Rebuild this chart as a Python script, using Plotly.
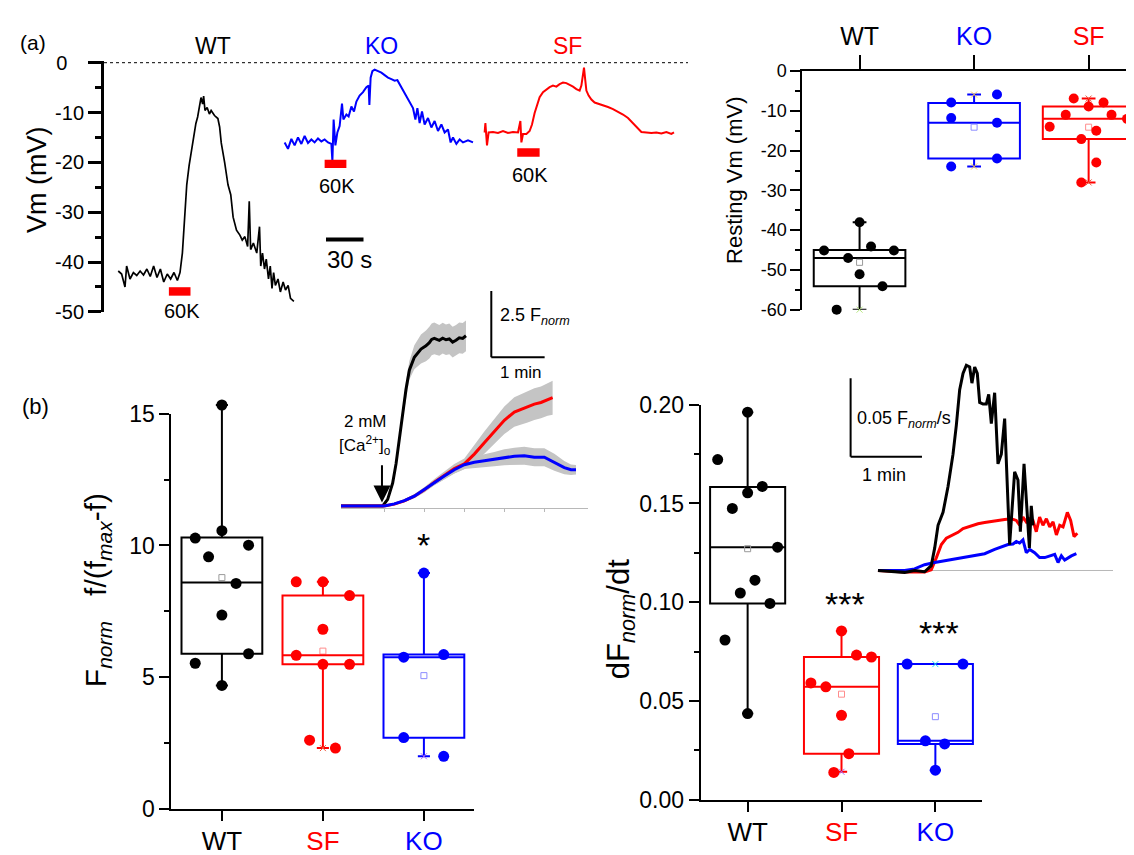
import plotly.graph_objects as go

W, H = 1134, 855
FONT = "Liberation Sans, Arial, Helvetica, sans-serif"
BLACK, RED, BLUE = "#000000", "#ff0000", "#0000ff"
LIGHT = {BLACK: "#9a9a9a", RED: "#ff8c8c", BLUE: "#8c8cff"}
GRAY_BAND = "#c4c4c4"
GRAY_LINE = "#b8b8b8"


def fx(px):
    return px / W


def fy(py):
    return 1 - py / H


# ---------------- (a) membrane potential traces (time s, Vm mV) ----------------
wt_vm_t = [11.4, 14.1, 16.8, 18.1, 20.8, 23.5, 26.2, 28.9, 31.6, 34.3, 37.0, 39.7, 42.4, 45.1, 47.8,
           50.6, 53.3, 56.0, 58.7, 60.8, 62.7, 64.1, 66.2, 68.1, 70.8, 73.5, 74.9, 76.2, 77.6, 78.9,
           79.7, 80.8, 82.5, 84.3, 85.7, 88.4, 91.1, 92.5, 93.8, 96.5, 99.2, 101.4, 103.3, 106.0,
           108.7, 110.6, 112.7, 114.9, 116.2, 117.3, 119.5, 122.2, 124.4, 125.4, 126.8, 128.4,
           129.8, 131.6, 133.0, 134.4, 135.7, 137.1, 139.2, 141.1, 143.3, 145.2, 147.3, 149.2, 151.9]
wt_vm = [-41.8, -42.4, -45.0, -40.8, -43.4, -42.1, -42.7, -41.8, -42.6, -41.4, -42.9, -40.8, -43.1,
         -41.4, -44.0, -42.4, -43.4, -42.1, -43.7, -42.1, -38.2, -31.7, -24.5, -20.6, -16.1, -12.2,
         -10.9, -9.0, -7.0, -8.3, -6.7, -9.6, -9.0, -10.3, -9.6, -10.6, -11.2, -12.9, -16.1, -20.0,
         -24.5, -26.5, -31.0, -33.6, -34.6, -35.6, -34.9, -36.9, -27.8, -37.5, -36.2, -38.2, -32.9,
         -40.8, -38.2, -41.4, -39.4, -43.4, -40.8, -45.3, -42.1, -44.7, -43.4, -46.0, -44.0, -45.6,
         -44.7, -47.3, -47.9]

ko_vm_t = [144.5, 147.2, 149.9, 152.5, 155.2, 157.9, 160.5, 163.2, 165.9, 168.5, 171.2, 173.9, 176.5,
           179.2, 181.9, 182.7, 183.7, 185.1, 186.7, 188.5, 190.4, 191.5, 193.9, 195.7, 197.9, 200.0,
           201.9, 204.5, 207.2, 209.9, 211.7, 212.3, 213.3, 214.7, 216.5, 219.2, 221.9, 224.5, 227.2,
           229.9, 232.5, 234.7, 236.5, 239.2, 241.9, 244.5, 247.2, 249.1, 250.7, 252.5, 254.4, 256.5,
           259.2, 261.9, 264.5, 267.2, 269.9, 272.5, 275.2, 277.3, 279.2, 281.9, 284.5, 287.2, 291.2, 295.2]
ko_vm = [-16.0, -17.3, -15.3, -16.6, -15.0, -16.3, -14.7, -16.1, -15.4, -16.0, -15.2, -15.8, -15.4,
         -16.0, -16.3, -19.8, -11.4, -16.6, -14.0, -12.7, -8.2, -11.4, -10.4, -10.8, -8.8, -9.8, -7.8,
         -6.6, -5.9, -4.9, -4.6, -8.5, -3.0, -1.7, -1.4, -1.7, -2.0, -2.5, -3.0, -3.3, -3.6, -3.5, -4.3,
         -5.6, -6.6, -7.8, -9.1, -11.4, -9.1, -12.1, -9.8, -12.4, -11.1, -13.0, -11.7, -13.7, -12.4,
         -14.0, -13.4, -16.0, -15.0, -16.3, -15.4, -16.0, -15.6, -16.0]

sf_vm_t = [304.5, 305.1, 306.4, 307.7, 311.2, 315.2, 319.2, 323.2, 327.2, 331.2, 333.1, 333.9, 335.2,
           337.9, 340.5, 342.4, 344.5, 346.7, 348.5, 351.2, 353.9, 356.5, 359.2, 361.9, 364.5, 367.2,
           369.9, 372.5, 375.2, 377.9, 380.5, 381.9, 383.2, 384.0, 384.8, 385.9, 387.7, 389.9, 392.5,
           395.2, 399.2, 403.2, 407.2, 411.2, 415.2, 419.2, 423.2, 427.2, 429.9, 433.9, 437.9, 441.9,
           445.9, 449.9, 453.9, 456.0]
sf_vm = [-14.0, -12.1, -16.6, -14.0, -13.9, -14.1, -13.7, -14.1, -13.9, -14.0, -11.7, -16.0, -14.3,
         -14.3, -13.7, -12.4, -10.1, -8.5, -6.9, -5.9, -5.4, -4.9, -4.6, -4.8, -4.3, -4.0, -4.1, -4.4,
         -4.8, -5.3, -5.6, -4.6, -2.3, -1.0, -3.0, -5.6, -6.6, -7.4, -8.0, -8.2, -8.5, -8.9, -9.3, -9.8,
         -10.4, -11.1, -12.1, -13.2, -13.9, -14.0, -14.1, -14.0, -14.2, -13.9, -14.3, -14.0]

# 60 mM K+ application windows (s) and bar level (mV)
k60_start = [51.9, 176.5, 330.6]
k60_end = [69.2, 193.9, 348.5]
k60_level = [-45.9, -20.3, -18.0]
trace_names = ["WT", "KO", "SF"]
trace_colors = [BLACK, BLUE, RED]
vm_ticks = [-50, -40, -30, -20, -10, 0]

# ---------------- (a) resting Vm box plot ----------------
rest_groups = ["WT", "KO", "SF"]
rest_colors = [BLACK, BLUE, RED]
rest_wt = [-38.0, -45.1, -44.1, -45.1, -47.0, -51.1, -54.1, -60.0]
rest_ko = [-7.9, -5.9, -11.8, -13.0, -22.0, -24.0]
rest_sf = [-6.9, -8.9, -7.9, -11.0, -11.0, -14.0, -12.0, -15.0, -17.1, -23.0, -28.0]
rest_q1 = [-54.1, -22.0, -17.1]
rest_med = [-47.0, -13.0, -12.0]
rest_q3 = [-45.0, -8.0, -8.9]
rest_lo = [-60.0, -24.0, -28.0]
rest_hi = [-38.0, -5.9, -6.9]
rest_mean = [-48.1, -14.1, -14.1]
rest_ticks = [-60, -50, -40, -30, -20, -10, 0]
# horizontal scatter of the points (category units)
rest_wt_jit = [0.0, -0.31, 0.10, 0.30, -0.10, 0.0, 0.20, -0.20]
rest_ko_jit = [-0.2, 0.2, -0.2, 0.2, 0.2, -0.2]
rest_sf_jit = [-0.13, 0.0, 0.13, -0.20, 0.20, -0.34, 0.335, 0.067, -0.064, 0.067, -0.064]

# ---------------- (b) Fnorm box plot ----------------
b_groups = ["WT", "SF", "KO"]
b_colors = [BLACK, RED, BLUE]
fn_wt = [15.33, 10.56, 10.28, 10.01, 9.57, 8.56, 7.36, 5.89, 5.53, 4.69]
fn_sf = [8.62, 8.62, 8.10, 6.82, 5.83, 5.49, 5.49, 2.61, 2.31]
fn_ko = [8.95, 5.76, 5.86, 2.71, 2.00]
fn_q1 = [5.89, 5.49, 2.70]
fn_med = [8.59, 5.83, 5.76]
fn_q3 = [10.30, 8.10, 5.86]
fn_lo = [4.69, 2.31, 2.00]
fn_hi = [15.33, 8.62, 8.95]
fn_mean = [8.78, 5.99, 5.06]
fn_sig = ["", "", "*"]
fn_sig_y = [None, None, 9.21]
fn_wt_jit = [0.0, 0.0, -0.264, 0.264, -0.132, 0.14, 0.0, 0.264, -0.264, 0.0]
fn_sf_jit = [-0.264, 0.0, 0.264, 0.0, -0.264, 0.0, 0.264, -0.132, 0.124]
fn_ko_jit = [0.0, -0.2, 0.196, -0.2, 0.196]

# Ca2+ inset (time s, delta Fnorm)
ca_wt_t = [0, 46.9, 52.5, 58.1, 61.9, 65.6, 69.4, 73.1, 76.9, 82.5, 90.0, 95.6, 99.4, 102.0, 105.0,
           110.6, 114.4, 118.1, 121.9, 125.6, 129.4, 133.1, 136.9, 140.6]
ca_wt = [0.02, 0.02, 0.27, 0.88, 1.61, 2.59, 3.57, 4.42, 5.15, 5.64, 5.95, 6.07, 6.19, 6.31, 6.35,
         6.28, 6.36, 6.30, 6.33, 6.21, 6.28, 6.37, 6.35, 6.45]
ca_wt_sem = [0, 0, 0.05, 0.12, 0.18, 0.22, 0.26, 0.3, 0.35, 0.45, 0.55, 0.58, 0.6, 0.6, 0.6,
             0.58, 0.58, 0.58, 0.58, 0.58, 0.58, 0.58, 0.58, 0.58]
ca_sf_t = [0, 48.75, 60.0, 71.25, 82.5, 93.75, 105.0, 116.25, 127.5, 138.75, 150.0, 161.25, 172.5,
           183.75, 195.0, 204.4, 210.0, 217.5, 225.0, 232.5, 238.1]
ca_sf = [0.02, 0.02, 0.09, 0.21, 0.39, 0.63, 0.92, 1.18, 1.43, 1.61, 1.98, 2.41, 2.83, 3.26, 3.57,
         3.69, 3.75, 3.87, 3.93, 4.05, 4.11]
ca_sf_sem = [0, 0, 0.02, 0.05, 0.08, 0.1, 0.12, 0.15, 0.18, 0.2, 0.35, 0.42, 0.48, 0.52, 0.56, 0.58,
             0.58, 0.6, 0.6, 0.62, 0.64]
ca_ko_t = [0, 48.75, 60.0, 71.25, 82.5, 93.75, 105.0, 116.25, 127.5, 138.75, 150.0, 161.25, 172.5,
           183.75, 195.0, 206.25, 217.5, 228.75, 240.0, 251.25, 258.75, 264.4]
ca_ko = [0.02, 0.02, 0.10, 0.22, 0.39, 0.63, 0.90, 1.15, 1.39, 1.58, 1.67, 1.73, 1.79, 1.86, 1.90,
         1.92, 1.86, 1.86, 1.67, 1.47, 1.39, 1.39]
ca_ko_sem = [0, 0, 0.02, 0.04, 0.06, 0.08, 0.1, 0.12, 0.14, 0.16, 0.2, 0.24, 0.27, 0.3, 0.32, 0.34,
             0.34, 0.34, 0.32, 0.25, 0.2, 0.18]
ca_end = 277.9

# ---------------- (b) dFnorm/dt box plot ----------------
df_wt = [0.1962, 0.1722, 0.1586, 0.1554, 0.1475, 0.1279, 0.1112, 0.1047, 0.0994, 0.0809, 0.0437]
df_sf = [0.0855, 0.0733, 0.0723, 0.0592, 0.0572, 0.0428, 0.0234, 0.0139]
df_ko = [0.0687, 0.0687, 0.0299, 0.0283, 0.0150]
df_q1 = [0.0994, 0.0234, 0.0283]
df_med = [0.1279, 0.0572, 0.0299]
df_q3 = [0.1583, 0.0723, 0.0687]
df_lo = [0.0437, 0.0142, 0.0150]
df_hi = [0.1962, 0.0855, 0.0687]
df_mean = [0.1271, 0.0535, 0.0421]
df_sig = ["", "***", "***"]
df_sig_y = [None, 0.0886, 0.0738]
df_wt_jit = [0.0, -0.319, 0.156, 0.0, -0.163, 0.319, 0.078, -0.078, 0.238, -0.241, 0.0]
df_sf_jit = [0.0, 0.16, 0.319, -0.326, -0.167, 0.0, 0.078, -0.082]
df_ko_jit = [-0.301, 0.294, -0.106, 0.099, 0.0]

# dF/dt inset (time s, dFnorm/dt)
rt_wt_t = [0, 22.4, 30.8, 39.2, 44.8, 47.7, 50.5, 54.7, 58.9, 63.1, 65.9, 68.7, 71.5, 74.3, 77.1,
           79.0, 81.3, 83.5, 85.5, 88.3, 91.1, 93.1, 95.3, 98.1, 100.9, 103.7, 106.5, 108.8, 110.7,
           114.9, 117.7, 119.7, 122.8, 125.6, 127.3, 128.9, 130.3]
rt_wt = [0, -0.0012, 0.0, -0.0008, 0.0031, 0.0144, 0.0288, 0.0370, 0.0535, 0.0741, 0.0926, 0.1152,
         0.1255, 0.1307, 0.1296, 0.1193, 0.1296, 0.1255, 0.1070, 0.1060, 0.1060, 0.1121, 0.0936,
         0.1132, 0.0679, 0.0741, 0.0967, 0.0535, 0.0165, 0.0628, 0.0576, 0.0247, 0.0679, 0.0350,
         0.0144, 0.0412, 0.0288]
rt_sf_t = [0, 22.4, 39.2, 44.8, 49.1, 53.3, 57.5, 63.1, 67.3, 71.5, 75.7, 79.9, 84.1, 89.7, 95.3,
           100.9, 106.5, 112.1, 116.3, 119.1, 121.9, 124.7, 127.5, 130.3, 133.1, 135.9, 138.7, 141.6,
           144.4, 147.2, 150.0, 152.8, 155.6, 159.2, 162.0, 164.8, 167.6]
rt_sf = [0, -0.001, -0.001, 0.0004, 0.0082, 0.0165, 0.0206, 0.0226, 0.0243, 0.0267, 0.0278, 0.0288,
         0.0298, 0.0305, 0.0313, 0.0319, 0.0325, 0.0329, 0.0319, 0.0288, 0.0340, 0.0309, 0.0329,
         0.0319, 0.0247, 0.0340, 0.0288, 0.0329, 0.0278, 0.0309, 0.0226, 0.0288, 0.0278, 0.0370,
         0.0319, 0.0216, 0.0237]
rt_ko_t = [0, 22.4, 30.8, 39.2, 47.7, 56.1, 64.5, 72.9, 81.3, 89.7, 98.1, 103.7, 109.3, 113.5, 116.3,
           119.1, 121.9, 124.7, 127.5, 131.7, 135.9, 140.2, 144.4, 148.6, 151.4, 154.2, 157.0, 159.8,
           162.6, 166.8]
rt_ko = [0, 0, 0.001, 0.0037, 0.0051, 0.0062, 0.0072, 0.0082, 0.0093, 0.0107, 0.0134, 0.0148,
         0.0165, 0.0169, 0.0185, 0.0175, 0.0195, 0.0113, 0.0134, 0.0113, 0.0082, 0.0082, 0.0093,
         0.0103, 0.0051, 0.0093, 0.0066, 0.0082, 0.0093, 0.0107]
rt_end = 197.6

# =====================================================================
fig = go.Figure()


def line(x, y, color, width, xa, ya, dash=None):
    fig.add_trace(go.Scatter(x=x, y=y, mode="lines", line=dict(color=color, width=width, dash=dash),
                             hoverinfo="skip", xaxis=xa, yaxis=ya))


def ann(x, y, text, size, xref="paper", yref="paper", color=BLACK, xanchor="center", yanchor="middle",
        angle=0):
    return dict(x=x, y=y, xref=xref, yref=yref, text=text, showarrow=False, textangle=angle,
                font=dict(size=size, color=color), xanchor=xanchor, yanchor=yanchor)


# ---- panel (a) traces
line([0, 467.2], [0, 0], BLACK, 1, "x", "y", dash="dot")
for t, v, c, w in [(wt_vm_t, wt_vm, BLACK, 1.7), (ko_vm_t, ko_vm, BLUE, 2), (sf_vm_t, sf_vm, RED, 2)]:
    line(t, v, c, w, "x", "y")

shapes = []
annotations = []
for s, e, lv in zip(k60_start, k60_end, k60_level):
    shapes.append(dict(type="rect", xref="x", yref="y", x0=s, x1=e, y0=lv - 0.85, y1=lv + 0.85,
                       fillcolor=RED, line=dict(width=0)))
k60_text_y = [-49.8, -24.7, -22.6]
for s, e, ty in zip(k60_start, k60_end, k60_text_y):
    annotations.append(ann((s + e) / 2 + 1.5, ty, "60K", 20, xref="x", yref="y"))
# 30 s scale bar
sb_x0 = 177.6
shapes.append(dict(type="line", xref="x", yref="y", x0=sb_x0, x1=sb_x0 + 30, y0=-35.5, y1=-35.5,
                   line=dict(color=BLACK, width=4)))
annotations.append(ann(sb_x0 - 1, -39.4, "30 s", 24, xref="x", yref="y", xanchor="left"))
for name, c, xt in zip(trace_names, trace_colors, [87.0, 221.6, 371.0]):
    annotations.append(ann(xt, fy(26), name, 23, xref="x", color=c))


# ---- box plots helper
def box_panel(colors, datasets, jits, q1, med, q3, lo, hi, mean, xa, ya, ya_mean, msize):
    for i, c in enumerate(colors):
        fig.add_trace(go.Box(x=[i], q1=[q1[i]], median=[med[i]], q3=[q3[i]], lowerfence=[lo[i]],
                             upperfence=[hi[i]], width=0.8, whiskerwidth=0.15, orientation="v",
                             fillcolor="rgba(0,0,0,0)", line=dict(color=c, width=2), boxpoints=False,
                             hoverinfo="skip", xaxis=xa, yaxis=ya))
    for i, c in enumerate(colors):
        fig.add_trace(go.Scatter(x=[i, i], y=[lo[i], hi[i]], mode="markers",
                                 marker=dict(symbol="x-thin-open", size=6, line=dict(color=LIGHT[c], width=1)),
                                 cliponaxis=False, hoverinfo="skip", xaxis=xa, yaxis=ya))
        fig.add_trace(go.Scatter(x=[i], y=[mean[i]], mode="markers",
                                 marker=dict(symbol="square-open", size=6, color=LIGHT[c], line=dict(width=1)),
                                 cliponaxis=False, hoverinfo="skip", xaxis=xa, yaxis=ya_mean))
    for i, (vals, jit, c) in enumerate(zip(datasets, jits, colors)):
        fig.add_trace(go.Scatter(x=[i + j for j in jit], y=vals, mode="markers",
                                 marker=dict(size=msize, color=c), cliponaxis=False, hoverinfo="skip",
                                 xaxis=xa, yaxis=ya))


box_panel(rest_colors, [rest_wt, rest_ko, rest_sf], [rest_wt_jit, rest_ko_jit, rest_sf_jit],
          rest_q1, rest_med, rest_q3, rest_lo, rest_hi, rest_mean, "x2", "y2", "y2", 10)
# Fnorm: boxes/points on an invisible twin scale (y7) that reaches above the 15 tick
box_panel(b_colors, [fn_wt, fn_sf, fn_ko], [fn_wt_jit, fn_sf_jit, fn_ko_jit],
          fn_q1, fn_med, fn_q3, fn_lo, fn_hi, fn_mean, "x3", "y7", "y3", 11)
box_panel(b_colors, [df_wt, df_sf, df_ko], [df_wt_jit, df_sf_jit, df_ko_jit],
          df_q1, df_med, df_q3, df_lo, df_hi, df_mean, "x5", "y5", "y5", 11)

# ---- Ca inset
for t, m, s in [(ca_wt_t, ca_wt, ca_wt_sem), (ca_sf_t, ca_sf, ca_sf_sem), (ca_ko_t, ca_ko, ca_ko_sem)]:
    up = [a + b for a, b in zip(m, s)]
    dn = [a - b for a, b in zip(m, s)]
    fig.add_trace(go.Scatter(x=t + t[::-1], y=up + dn[::-1], fill="toself", fillcolor=GRAY_BAND,
                             mode="lines", line=dict(width=0), hoverinfo="skip", xaxis="x4", yaxis="y4"))
line(ca_wt_t, ca_wt, BLACK, 3, "x4", "y4")
line(ca_sf_t, ca_sf, RED, 3, "x4", "y4")
line(ca_ko_t, ca_ko, BLUE, 3, "x4", "y4")
cb_x, cb_y = 169.1, 5.64
shapes.append(dict(type="line", xref="x4", yref="y4", x0=cb_x, x1=cb_x, y0=cb_y, y1=cb_y + 2.5,
                   line=dict(color=BLACK, width=2)))
shapes.append(dict(type="line", xref="x4", yref="y4", x0=cb_x, x1=cb_x + 60, y0=cb_y, y1=cb_y,
                   line=dict(color=BLACK, width=2)))
annotations += [
    ann(cb_x + 7, 7.17, "2.5 F<sub><i>norm</i></sub>", 18, xref="x4", yref="y4", xanchor="left"),
    ann(cb_x + 33, 5.05, "1 min", 17, xref="x4", yref="y4"),
    ann(27, 3.2, "2 mM", 17, xref="x4", yref="y4"),
    ann(27, 2.3, "[Ca<sup>2+</sup>]<sub>o</sub>", 17, xref="x4", yref="y4"),
    dict(x=46.1, y=0.15, ax=46.1, ay=1.62, xref="x4", yref="y4", axref="x4", ayref="y4", text="",
         showarrow=True, arrowhead=2, arrowsize=1.7, arrowwidth=2, arrowcolor=BLACK),
]

# ---- dF/dt inset
line([0, rt_end], [0, 0], GRAY_LINE, 1, "x6", "y6")
line(rt_sf_t, rt_sf, RED, 3, "x6", "y6")
line(rt_ko_t, rt_ko, BLUE, 3, "x6", "y6")
line(rt_wt_t, rt_wt, BLACK, 3, "x6", "y6")
rb_x, rb_y = -23.0, 0.0725
shapes.append(dict(type="line", xref="x6", yref="y6", x0=rb_x, x1=rb_x, y0=rb_y, y1=rb_y + 0.05,
                   line=dict(color=BLACK, width=2)))
shapes.append(dict(type="line", xref="x6", yref="y6", x0=rb_x, x1=rb_x + 60, y0=rb_y, y1=rb_y,
                   line=dict(color=BLACK, width=2)))
annotations += [
    ann(rb_x + 3.4, 0.0963, "0.05 F<sub><i>norm</i></sub>/s", 18, xref="x6", yref="y6", xanchor="left"),
    ann(rb_x + 28, 0.0609, "1 min", 18, xref="x6", yref="y6"),
]

# significance marks
for i, (s, yv) in enumerate(zip(fn_sig, fn_sig_y)):
    if s:
        annotations.append(ann(i, yv, s, 34, xref="x3", yref="y3", yanchor="bottom"))
for i, (s, yv) in enumerate(zip(df_sig, df_sig_y)):
    if s:
        annotations.append(ann(i + 0.04, yv, s, 34, xref="x5", yref="y5", yanchor="bottom"))

# panel labels and axis titles
annotations += [
    ann(fx(25), fy(22), "(a)", 21),
    ann(fx(27), fy(398), "(b)", 22),
    ann(fx(29), fy(164), "Vm (mV)", 27, angle=-90),
    ann(fx(727), fy(165), "Resting Vm (mV)", 22, angle=-90),
    ann(fx(89), fy(587), "F<sub><i>norm</i></sub>\u00a0\u00a0\u00a0f/(f<sub><i>max</i></sub>-f)", 30, angle=-90),
    ann(fx(613), fy(617), "dF<sub><i>norm</i></sub>/dt", 31, angle=-90),
]


def colored(names, colors):
    return [f'<span style="color:{c}">{n}</span>' for n, c in zip(names, colors)]


ax_common = dict(showgrid=False, zeroline=False, showline=True, linecolor=BLACK, ticks="outside",
                 tickcolor=BLACK)

PXU_FN = (812.7 - 405) / 15.0   # pixels per Fnorm unit
vm_ticktext = [str(v) if v != 0 else "0\u00a0\u00a0\u00a0" for v in vm_ticks]
fig.update_layout(
    width=W, height=H, margin=dict(l=0, r=0, t=0, b=0), autosize=False,
    paper_bgcolor="white", plot_bgcolor="rgba(0,0,0,0)", showlegend=False, boxmode="overlay",
    font=dict(family=FONT, color=BLACK),
    shapes=shapes, annotations=annotations,
    # (a) traces
    xaxis=dict(domain=[fx(96), fx(680)], range=[0, 467.2], visible=False, anchor="y"),
    yaxis=dict(domain=[fy(300), fy(300 - 50.4 * 5.14)], range=[-50, 0.4], anchor="x",
               tickvals=vm_ticks, ticktext=vm_ticktext,
               linewidth=3, tickwidth=3, ticklen=13, tickfont=dict(size=20),
               minor=dict(dtick=5, tick0=0, ticks="outside", ticklen=6, tickwidth=3, tickcolor=BLACK),
               **ax_common),
    # (a) resting Vm
    xaxis2=dict(domain=[fx(794.3), 1.0], range=[-0.5, 2.466], anchor="y2", side="top",
                tickvals=[0, 1, 2], ticktext=colored(rest_groups, rest_colors), tickfont=dict(size=25),
                linewidth=2, tickwidth=2, ticklen=14, **ax_common),
    yaxis2=dict(domain=[fy(297.7), fy(51.7)], range=[-60, 0], anchor="x2",
                tickvals=rest_ticks, ticktext=[str(v) for v in rest_ticks],
                linewidth=2, tickwidth=2, ticklen=10, tickfont=dict(size=18),
                minor=dict(dtick=5, tick0=0, ticks="outside", ticklen=5, tickwidth=2, tickcolor=BLACK),
                **ax_common),
    # (b) Fnorm
    xaxis3=dict(domain=[fx(163.4), fx(466.4)], range=[-0.5, 2.5], anchor="y3",
                tickvals=[0, 1, 2], ticktext=colored(b_groups, b_colors), tickfont=dict(size=26),
                ticklabelstandoff=-2, linewidth=2, tickwidth=2, ticklen=10, **ax_common),
    yaxis3=dict(domain=[fy(812.7), fy(405)], range=[0, 15], anchor="x3", dtick=5, tick0=0,
                linewidth=2, tickwidth=2, ticklen=10, tickfont=dict(size=23),
                minor=dict(dtick=2.5, ticks="outside", ticklen=5, tickwidth=2, tickcolor=BLACK), **ax_common),
    yaxis7=dict(domain=[fy(812.7), fy(812.7 - 16 * PXU_FN)], range=[0, 16], anchor="x3", visible=False),
    # Ca inset
    xaxis4=dict(domain=[fx(333), fx(580)], range=[0, ca_end], anchor="y4", showgrid=False, zeroline=False,
                showline=True, linecolor=GRAY_LINE, linewidth=1, ticks="outside", ticklen=3,
                tickcolor=GRAY_LINE, tickvals=[49, 94, 139, 184, 229], showticklabels=False),
    yaxis4=dict(domain=[fy(502.1), fy(265)], range=[-0.05, 8.635], anchor="x4", visible=False),
    # (b) dF/dt
    xaxis5=dict(domain=[fx(692.7), fx(974.3)], range=[-0.5, 2.5], anchor="y5",
                tickvals=[0, 1, 2], ticktext=colored(b_groups, b_colors), tickfont=dict(size=26),
                ticklabelstandoff=-2, linewidth=2, tickwidth=2, ticklen=10, **ax_common),
    yaxis5=dict(domain=[fy(803.3), fy(395.7)], range=[0, 0.2], anchor="x5", dtick=0.05, tick0=0,
                tickformat=".2f", linewidth=2, tickwidth=2, ticklen=10, tickfont=dict(size=23),
                minor=dict(dtick=0.025, ticks="outside", ticklen=5, tickwidth=2, tickcolor=BLACK), **ax_common),
    # dF/dt inset
    xaxis6=dict(domain=[fx(835), fx(1110)], range=[-29.4, 201.8], anchor="y6", visible=False),
    yaxis6=dict(domain=[fy(573.2), fy(340)], range=[-0.004, 0.14], anchor="x6", visible=False),
)

fig.write_html("out.html")
